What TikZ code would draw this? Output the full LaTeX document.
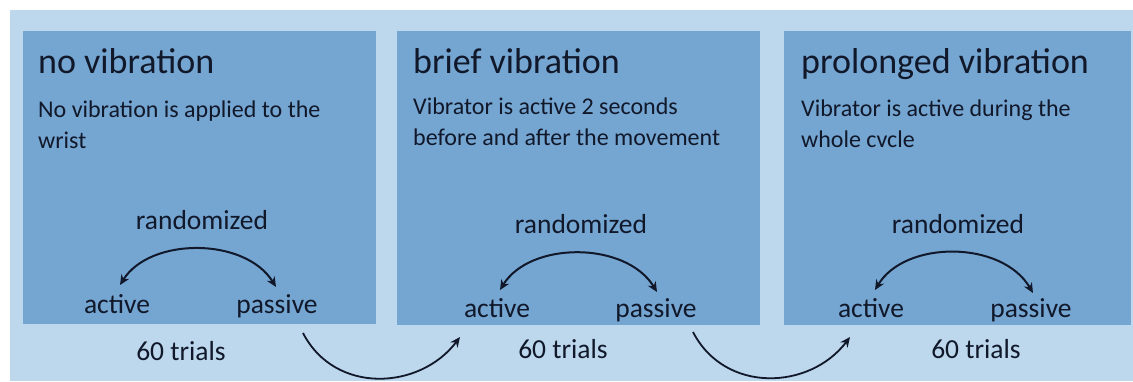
\documentclass[tikz,border=0pt]{standalone}
\usepackage{fontspec}
\setmainfont{Carlito}
\usetikzlibrary{arrows.meta}
\definecolor{bglight}{RGB}{189,215,237}
\definecolor{boxblue}{RGB}{117,165,209}
\definecolor{ink}{RGB}{16,24,42}
\begin{document}
\begin{tikzpicture}[x=1pt,y=-1pt,
  panel/.style={fill=boxblue,draw=none},
  titletext/.style={anchor=base west,inner sep=0pt,text=ink,font=\fontsize{36}{43}\selectfont},
  bodytext/.style={anchor=base west,inner sep=0pt,text=ink,align=left,font=\fontsize{24}{31}\selectfont},
  word/.style={anchor=base,inner sep=0pt,text=ink,font=\fontsize{27.5}{33}\selectfont},
  swap/.style={draw=ink,line width=2pt,{Stealth[length=10pt,width=9pt]}-{Stealth[length=10pt,width=9pt]}},
  flow/.style={draw=ink,line width=1.8pt,-{Stealth[length=10pt,width=9pt]}}]
\useasboundingbox (0,0) rectangle (1133,381);
\fill[white] (0,0) rectangle (1133,381);
\fill[bglight] (10,10) rectangle (1133,381);
% panels
\path[panel] (23,31) rectangle (376,324);
\path[panel] (397,31) rectangle (760,325);
\path[panel] (784,31) rectangle (1131,325);
% panel 1 (body node anchored at the baseline of its last line)
\node[titletext] (t1) at (38,73) {no vibration};
\node[bodytext] (d1) at (38,148) {No vibration is applied to the\\wrist};
\node[word] (r1) at (202,229) {randomized};
\node[word] (a1) at (117,313) {active};
\node[word] (p1) at (277,313) {passive};
\node[word] (n1) at (181,360) {60 trials};
% panel 2
\node[titletext] (t2) at (413,73) {brief vibration};
\node[bodytext] (d2) at (413,145) {Vibrator is active 2 seconds\\before and after the movement};
\node[word] (r2) at (581,233) {randomized};
\node[word] (a2) at (497,317) {active};
\node[word] (p2) at (656,317) {passive};
\node[word] (n2) at (563,358) {60 trials};
% panel 3
\node[titletext] (t3) at (801,73) {prolonged vibration};
\node[bodytext] (d3) at (801,147) {Vibrator is active during the\\whole cvcle};
\node[word] (r3) at (958,233) {randomized};
\node[word] (a3) at (871,317) {active};
\node[word] (p3) at (1031,317) {passive};
\node[word] (n3) at (976,358) {60 trials};
% swap arrows
\coordinate (s1a) at (120,285); \coordinate (s1b) at (276,287);
\coordinate (s2a) at (500,290); \coordinate (s2b) at (657,292);
\coordinate (s3a) at (875,290); \coordinate (s3b) at (1033,293);
\draw[swap] (s1a) .. controls (150,237) and (245,237) .. (s1b);
\draw[swap] (s2a) .. controls (530,241) and (626,241) .. (s2b);
\draw[swap] (s3a) .. controls (905,240) and (1002,240) .. (s3b);
% flow arrows
\coordinate (f1a) at (303,333); \coordinate (f1b) at (460,337);
\coordinate (f2a) at (693,332); \coordinate (f2b) at (850,337);
\draw[flow] (f1a) .. controls (335,395) and (420,390) .. (f1b);
\draw[flow] (f2a) .. controls (725,394) and (810,390) .. (f2b);
\end{tikzpicture}
\end{document}
